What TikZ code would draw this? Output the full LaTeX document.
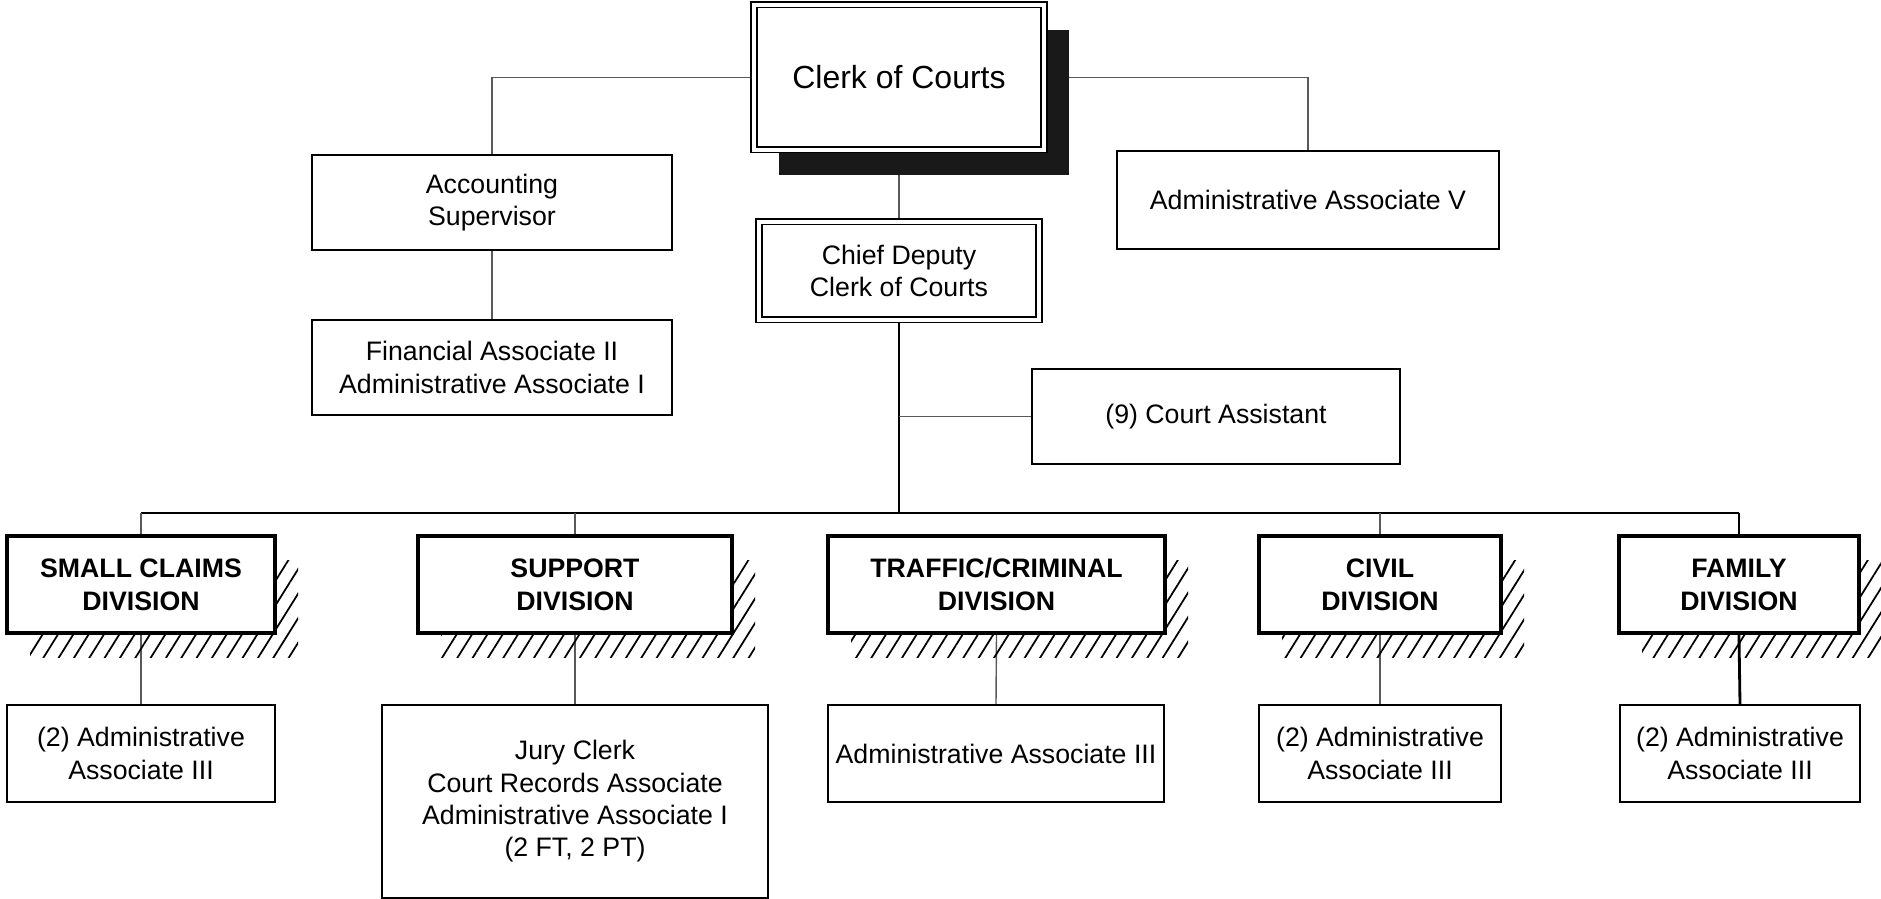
\documentclass[tikz,border=0pt]{standalone}
\usepackage{fontspec}
\setmainfont{Liberation Sans}
\usetikzlibrary{shadows,patterns.meta,backgrounds}
\tikzset{
  box/.style={draw,line width=0.6pt,fill=white,inner sep=0pt,align=center,font=\fontsize{7.6}{9.2}\selectfont},
  dblbox/.style={box,double,double distance=1.1pt,line width=0.45pt},
  divbox/.style={box,line width=1pt,minimum height=0.97cm,font=\fontsize{7.6}{9.4}\selectfont\bfseries,
    general shadow={shadow xshift=0.23cm,shadow yshift=-0.25cm,pattern={Lines[angle=58,distance=3.7pt,line width=0.5pt]}}},
  subbox/.style={box,minimum height=0.97cm},
  link/.style={draw=black!65,line width=0.4pt},
  trunk/.style={draw=black,line width=0.8pt}
}
\begin{document}
\begin{tikzpicture}
    \useasboundingbox (0,0) rectangle (18.81,8.99);
    \node[dblbox,minimum width=2.9cm,minimum height=1.45cm,font=\fontsize{9.1}{11}\selectfont,
      drop shadow={shadow xshift=0.25cm,shadow yshift=-0.25cm,fill=black!90,opacity=1}] (clerk) at (8.99,8.215) {Clerk of Courts};
    \node[box,minimum width=3.6cm,minimum height=0.95cm] (acct) at (4.92,6.965) {Accounting\\Supervisor};
    \node[box,minimum width=3.6cm,minimum height=0.95cm] (fin) at (4.92,5.315) {Financial Associate II\\Administrative Associate I};
    \node[box,minimum width=3.82cm,minimum height=0.98cm] (admv) at (13.08,6.99) {Administrative Associate V};
    \node[dblbox,minimum width=2.8cm,minimum height=0.98cm] (chief) at (8.99,6.28) {Chief Deputy\\Clerk of Courts};
    \node[box,minimum width=3.68cm,minimum height=0.95cm] (assist) at (12.16,4.825) {(9) Court Assistant};
    \coordinate (bus) at (8.99,3.86);
    \node[divbox,minimum width=2.68cm] (small) at (1.41,3.145) {SMALL CLAIMS\\DIVISION};
    \node[divbox,minimum width=3.14cm] (support) at (5.75,3.145) {SUPPORT\\DIVISION};
    \node[divbox,minimum width=3.37cm] (traffic) at (9.965,3.145) {TRAFFIC/CRIMINAL\\DIVISION};
    \node[divbox,minimum width=2.42cm] (civil) at (13.80,3.145) {CIVIL\\DIVISION};
    \node[divbox,minimum width=2.40cm] (family) at (17.39,3.145) {FAMILY\\DIVISION};
    \node[subbox,minimum width=2.68cm] (small-sub) at (1.41,1.455) {(2) Administrative\\Associate III};
    \node[box,minimum width=3.86cm,minimum height=1.93cm] (support-sub) at (5.75,0.975) {Jury Clerk\\Court Records Associate\\Administrative Associate I\\(2 FT, 2 PT)};
    \node[subbox,minimum width=3.36cm] (traffic-sub) at (9.96,1.455) {Administrative Associate III};
    \node[subbox,minimum width=2.42cm] (civil-sub) at (13.80,1.455) {(2) Administrative\\Associate III};
    \node[subbox,minimum width=2.40cm] (family-sub) at (17.40,1.455) {(2) Administrative\\Associate III};
    \begin{scope}[on background layer]
        \draw[link] (clerk.west) -| (acct.north);
        \draw[link] (clerk.east) -| (admv.north);
        \draw[link] (acct.south) -- (fin.north);
        \draw[link] (clerk.south) -- (chief.north);
        \draw[trunk] (chief.south) -- (bus);
        \draw[link] (chief.south |- assist.west) -- (assist.west);
        \draw[trunk] (small.north |- bus) -- (family.north |- bus);
        \foreach \d in {small,support,civil}
            \draw[link] (\d.north |- bus) -- (\d.north);
        \draw[trunk] (family.north |- bus) -- (family.north);
        \foreach \d in {small,support,traffic,civil}
            \draw[link] (\d.south) -- (\d-sub.north);
        \draw[trunk] (family.south) -- (family-sub.north);
    \end{scope}
\end{tikzpicture}
\end{document}
